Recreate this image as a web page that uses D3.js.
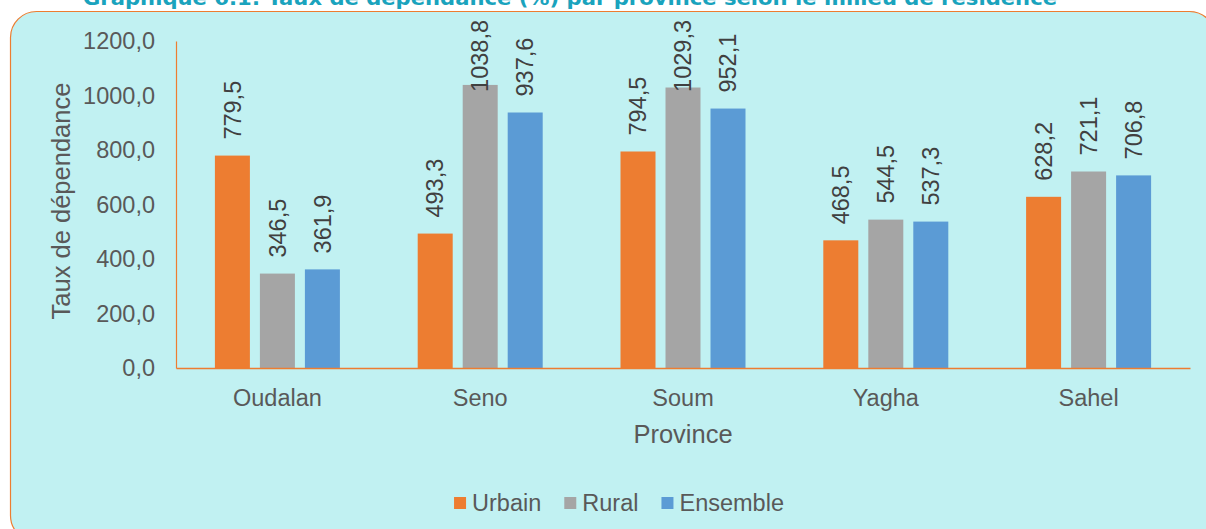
<!DOCTYPE html>
<html>
<head>
<meta charset="utf-8">
<script src="https://cdn.jsdelivr.net/npm/d3@7"></script>
<style>
  body { margin: 0; background: #fff; }
  svg { display: block; font-family: "Liberation Sans", Arial, sans-serif; }
</style>
</head>
<body>
<div id="chart"></div>
<script>
const provinces = ["Oudalan", "Seno", "Soum", "Yagha", "Sahel"]
const urbain = [779.5, 493.3, 794.5, 468.5, 628.2]
const rural = [346.5, 1038.8, 1029.3, 544.5, 721.1]
const ensemble = [361.9, 937.6, 952.1, 537.3, 706.8]
const seriesNames = ["Urbain", "Rural", "Ensemble"]
const yTicks = [0, 200, 400, 600, 800, 1000, 1200]

const W = 1206, H = 529
const colors = { Urbain: "#ed7d31", Rural: "#a5a5a5", Ensemble: "#5b9bd5" }
const fmt = v => d3.format(".1f")(v).replace(".", ",")

const svg = d3.select("#chart").append("svg")
    .attr("width", W)
    .attr("height", H)

// title (cut off by the top of the picture)
svg.append("text")
    .attr("x", 83)
    .attr("y", 5)
    .attr("textLength", 974)
    .attr("lengthAdjust", "spacingAndGlyphs")
    .attr("font-family", "DejaVu Sans")
    .attr("font-weight", "bold")
    .attr("font-size", 19)
    .attr("fill", "#1aa3bd")
    .text("Graphique 6.1: Taux de dépendance (%) par province selon le milieu de résidence")

// frame
svg.append("rect")
    .attr("x", 10.5).attr("y", 11.5)
    .attr("width", 1205).attr("height", 530)
    .attr("rx", 26)
    .attr("fill", "#c1f1f2")
    .attr("stroke", "#ed7d31")
    .attr("stroke-width", 1.2)

const pLeft = 176, pRight = 1190, pTop = 41, pBottom = 368

const x0 = d3.scaleBand().domain(provinces).range([pLeft, pRight]).padding(0)
const x1 = d3.scaleBand().domain(seriesNames).range([-67.5, 67.5])
    .paddingInner(10 / 45).paddingOuter(5 / 45)
const y = d3.scaleLinear().domain([0, 1200]).range([pBottom, pTop])

const rows = provinces.map((p, i) => ({
    province: p,
    values: [
        { s: "Urbain", v: urbain[i] },
        { s: "Rural", v: rural[i] },
        { s: "Ensemble", v: ensemble[i] }
    ]
}))

// y tick labels
const yAxis = d3.axisLeft(y).tickValues(yTicks).tickFormat(fmt).tickSize(0).tickPadding(21)
const gy = svg.append("g").attr("transform", `translate(${pLeft},0)`).call(yAxis)
gy.select(".domain").attr("stroke", "#ed7d31").attr("stroke-width", 1.2)
gy.selectAll("text")
    .attr("font-size", 23.5)
    .attr("font-family", "Liberation Sans, Arial, sans-serif")
    .attr("fill", "#595959")

// bars
const groups = svg.selectAll("g.grp")
    .data(rows)
    .enter().append("g")
    .attr("class", "grp")
    .attr("transform", d => `translate(${x0(d.province) + x0.bandwidth() / 2},0)`)

groups.selectAll("rect")
    .data(d => d.values)
    .enter().append("rect")
    .attr("x", d => x1(d.s))
    .attr("width", x1.bandwidth())
    .attr("y", d => y(d.v))
    .attr("height", d => y(0) - y(d.v))
    .attr("fill", d => colors[d.s])

// value labels, rotated
groups.selectAll("text.val")
    .data(d => d.values)
    .enter().append("text")
    .attr("class", "val")
    .attr("font-size", 23.5)
    .attr("fill", "#404040")
    .text(d => fmt(d.v))
    .each(function(d) {
        const len = this.getComputedTextLength()
        const cx = x1(d.s) + x1.bandwidth() / 2
        const start = Math.max(y(d.v) - 16, 20 + len)
        d3.select(this)
            .attr("dy", "0.35em")
            .attr("transform", `translate(${cx},${start}) rotate(-90)`)
    })

// x axis
const xAxis = d3.axisBottom(x0).tickSize(0).tickPadding(21)
const gx = svg.append("g").attr("transform", `translate(0,${pBottom})`).call(xAxis)
gx.select(".domain").attr("stroke", "#ed7d31").attr("stroke-width", 1.5)
gx.selectAll("text")
    .attr("font-size", 23.5)
    .attr("font-family", "Liberation Sans, Arial, sans-serif")
    .attr("fill", "#595959")

// axis titles
svg.append("text")
    .attr("x", (pLeft + pRight) / 2)
    .attr("y", 443)
    .attr("text-anchor", "middle")
    .attr("font-size", 25.5)
    .attr("fill", "#595959")
    .text("Province")

svg.append("text")
    .attr("transform", "translate(70,201) rotate(-90)")
    .attr("text-anchor", "middle")
    .attr("font-size", 25.5)
    .attr("fill", "#595959")
    .text("Taux de dépendance")

// legend
const legend = svg.append("g")
let lx = 0
seriesNames.forEach(s => {
    const item = legend.append("g").attr("transform", `translate(${lx},0)`)
    item.append("rect")
        .attr("x", 0).attr("y", -14)
        .attr("width", 12).attr("height", 12)
        .attr("fill", colors[s])
    const t = item.append("text")
        .attr("x", 18)
        .attr("font-size", 23.5)
        .attr("fill", "#595959")
        .text(s)
    lx += 18 + t.node().getComputedTextLength() + 23
})
const legendW = lx - 23
legend.attr("transform", `translate(${619 - legendW / 2},511)`)
</script>
</body>
</html>
